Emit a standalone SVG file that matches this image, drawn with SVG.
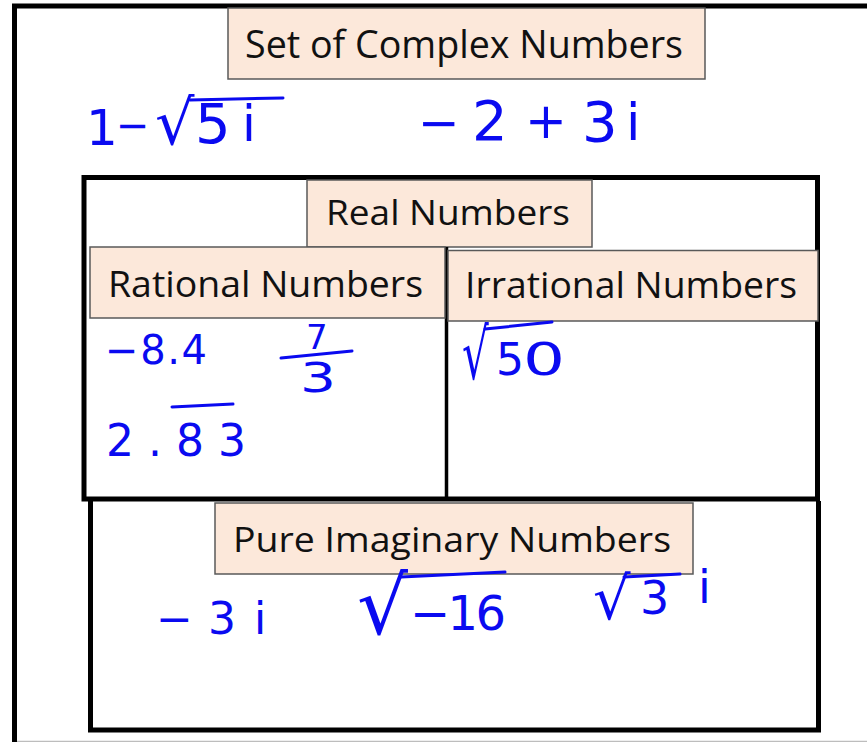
<svg xmlns="http://www.w3.org/2000/svg" width="867" height="742" viewBox="0 0 867 742">
<style>
.frame{fill:none;stroke:#000;stroke-width:5}
.label{fill:#FCE8DA;stroke:#595959;stroke-width:1.5}
.title{font-family:"Open Sans","Noto Sans",sans-serif;fill:#111}
.hw{font-family:"DejaVu Sans",sans-serif;fill:#0A0AF0}
.vinc{stroke:#0A0AF0;stroke-width:3;stroke-linecap:round;fill:none}
</style>
<rect width="867" height="742" fill="#fff"/>
<g id="complex">
  <path class="frame" d="M14.5,745 V6 H872"/>
  <line x1="17" y1="741.5" x2="867" y2="741.5" stroke="#bdbdbd" stroke-width="1.5"/>
  <rect class="label" x="228" y="8" width="477" height="71"/>
  <text class="title" x="245" y="58" font-size="38" textLength="438" lengthAdjust="spacingAndGlyphs">Set of Complex Numbers</text>
  <g id="complex-examples">
    <text class="hw" x="86" y="145" font-size="50">1</text>
    <text class="hw" x="116" y="139" font-size="40">−</text>
    <text class="hw" x="155" y="144" font-size="62">√</text>
    <line class="vinc" x1="190" y1="100" x2="283" y2="98"/>
    <text class="hw" x="195" y="143" font-size="56">5</text>
    <text class="hw" x="242" y="141" font-size="50">i</text>
    <text class="hw" x="418" y="140" font-size="50">−</text>
    <text class="hw" x="472" y="140" font-size="56">2</text>
    <text class="hw" x="525" y="138" font-size="50">+</text>
    <text class="hw" x="582" y="141" font-size="56">3</text>
    <text class="hw" x="626" y="140" font-size="52">i</text>
  </g>
</g>
<g id="real">
  <rect class="frame" x="84" y="177.5" width="733.5" height="321.5"/>
  <rect class="label" x="307" y="180" width="285" height="67"/>
  <text class="title" x="326" y="225" font-size="34" textLength="244" lengthAdjust="spacingAndGlyphs">Real Numbers</text>
  <line x1="446.5" y1="247" x2="446.5" y2="499" stroke="#000" stroke-width="3.5"/>
</g>
<g id="rational">
  <rect class="label" x="90" y="247" width="355" height="71"/>
  <text class="title" x="108" y="297" font-size="36" textLength="315" lengthAdjust="spacingAndGlyphs">Rational Numbers</text>
  <g id="rational-examples">
    <text class="hw" x="105" y="364" font-size="40" textLength="102" lengthAdjust="spacing">−8.4</text>
    <text class="hw" x="306" y="349" font-size="34">7</text>
    <line class="vinc" x1="281" y1="358" x2="352" y2="351"/>
    <text class="hw" x="300" y="392" font-size="40" textLength="36" lengthAdjust="spacingAndGlyphs">3</text>
    <text class="hw" x="106" y="456" font-size="44" textLength="140" lengthAdjust="spacing">2.83</text>
    <line class="vinc" x1="172" y1="407" x2="233" y2="404"/>
  </g>
</g>
<g id="irrational">
  <rect class="label" x="448" y="250.5" width="370" height="70.5"/>
  <text class="title" x="465" y="298" font-size="36" textLength="332" lengthAdjust="spacingAndGlyphs">Irrational Numbers</text>
  <g id="irrational-examples">
    <text class="hw" font-size="70" transform="translate(462,379) scale(0.6,1)">√</text>
    <line class="vinc" x1="485" y1="329" x2="552" y2="322"/>
    <text class="hw" x="496" y="375" font-size="44">5</text>
    <text class="hw" x="523" y="375" font-size="44" textLength="42" lengthAdjust="spacingAndGlyphs">0</text>
  </g>
</g>
<g id="pure-imaginary">
  <path class="frame" d="M90.5,501 V730 H818.5 V501"/>
  <rect class="label" x="215" y="503" width="478" height="71"/>
  <text class="title" x="233" y="552" font-size="35" textLength="438" lengthAdjust="spacingAndGlyphs">Pure Imaginary Numbers</text>
  <g id="pure-examples">
    <text class="hw" x="156" y="634" font-size="44">−</text>
    <text class="hw" x="208" y="634" font-size="44">3</text>
    <text class="hw" x="254" y="634" font-size="44">i</text>
    <text class="hw" x="357" y="634" font-size="80">√</text>
    <line class="vinc" x1="401" y1="577" x2="505" y2="572"/>
    <text class="hw" x="410" y="630" font-size="48" textLength="96" lengthAdjust="spacing">−16</text>
    <text class="hw" x="593" y="619" font-size="59">√</text>
    <line class="vinc" x1="624" y1="577" x2="680" y2="574"/>
    <text class="hw" x="640" y="614" font-size="46">3</text>
    <text class="hw" x="698" y="603" font-size="46">i</text>
  </g>
</g>
</svg>
